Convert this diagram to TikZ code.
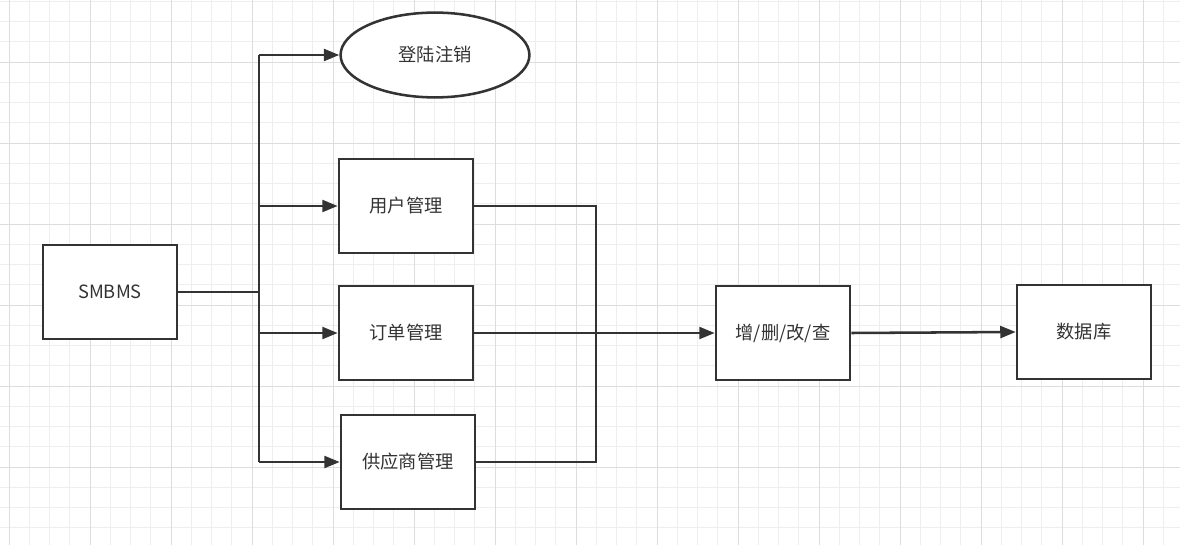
\documentclass[tikz,border=0pt]{standalone}
\usepackage{fontspec}
\setmainfont{Noto Sans CJK SC}
\usetikzlibrary{arrows.meta,shapes.geometric}
\definecolor{linecol}{HTML}{333333}
\definecolor{gridminor}{HTML}{EEEEEE}
\definecolor{gridmajor}{HTML}{DDDDDD}

\begin{document}
\begin{tikzpicture}[x=0.025cm, y=-0.025cm,
    box/.style={draw=linecol, line width=1.8pt, fill=white, text=linecol,
        minimum width=3.35cm, minimum height=2.35cm, font=\fontsize{13}{15}\selectfont},
    oval/.style={ellipse, draw=linecol, line width=1.8pt, fill=white, text=linecol,
        minimum width=4.72cm, minimum height=2.12cm, font=\fontsize{13}{15}\selectfont},
    conn/.style={draw=linecol, line width=1.8pt},
    arrow/.style={conn, -{Triangle[length=11pt,width=8.5pt]}}]
    \useasboundingbox (0,0) rectangle (1180,545);
    \fill[white] (0,0) rectangle (1180,545);
    % Grid
    \foreach \i in {0,...,58} \draw[gridminor, line width=0.7pt] ({9+20.25*\i},0) -- ({9+20.25*\i},545);
    \foreach \i in {0,...,27} \draw[gridminor, line width=0.7pt] (0,{1.25+20.25*\i}) -- (1180,{1.25+20.25*\i});
    \foreach \i in {0,...,14} \draw[gridmajor, line width=0.7pt] ({9+81*\i},0) -- ({9+81*\i},545);
    \foreach \i in {0,...,6} \draw[gridmajor, line width=0.7pt] (0,{-19+81*\i}) -- (1180,{-19+81*\i});
    % Nodes
    \node[box] (sys) at (110,292) {SMBMS};
    \node[oval] (login) at (435,55) {登陆注销};
    \node[box] (user) at (406,206) {用户管理};
    \node[box] (order) at (406,333) {订单管理};
    \node[box] (supp) at (408,462) {供应商管理};
    \node[box] (crud) at (783,333) {增/删/改/查};
    \node[box] (db) at (1084,332) {数据库};
    \coordinate (split) at (259,292);
    \coordinate (join) at (596,333);
    % Branches from SMBMS
    \draw[conn] (sys.east) -- (split);
    \draw[conn] (split |- login.west) -- (split |- supp.west);
    \foreach \n in {login,user,order,supp} \draw[arrow] (split |- \n.west) -- (\n.west);
    % Merge into CRUD
    \draw[conn] (user.east) -- (join |- user.east) -- (join |- supp.east) -- (supp.east);
    \draw[arrow] (order.east) -- (crud.west);
    \draw[arrow] (crud.east) -- (db.west);
\end{tikzpicture}
\end{document}
